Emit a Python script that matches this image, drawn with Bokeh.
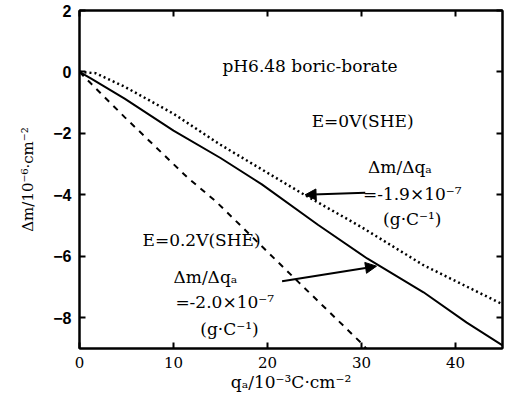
from bokeh.plotting import figure
from bokeh.models import Range1d, LinearAxis, FixedTicker, Label, Arrow, NormalHead
from bokeh.embed import file_html
from bokeh.resources import INLINE

# --- data ---
q_solid = [0, 1.2, 4.8, 10.0, 15.0, 19.4, 25.4, 30.6, 36.6, 41.2, 45.0]
dm_solid = [0, -0.21, -0.87, -1.91, -2.80, -3.66, -4.98, -6.07, -7.17, -8.16, -8.90]

q_dotted = [0, 1.7, 4.8, 10.0, 15.0, 23.6, 30.0, 36.6, 45.0]
dm_dotted = [0, -0.04, -0.48, -1.36, -2.37, -3.94, -5.05, -6.29, -7.56]

q_dashed = [0, 1.2, 4.8, 11.5, 14.5, 23.3, 29.9, 30.5]
dm_dashed = [0, -0.37, -1.47, -3.44, -4.21, -6.84, -8.80, -9.00]

x_ticks = [0, 10, 20, 30, 40]
y_ticks = [-8, -6, -4, -2, 0, 2]

SERIF = "DejaVu Serif"

p = figure(width=505, height=396, output_backend="svg", toolbar_location=None,
           x_range=Range1d(0, 45), y_range=Range1d(-9, 2),
           min_border_left=79, min_border_right=3, min_border_top=10, min_border_bottom=48,
           x_axis_label="qₐ/10⁻³C·cm⁻²", y_axis_label="Δm/10⁻⁶·cm⁻²")
p.grid.visible = False
p.outline_line_color = "black"
p.outline_line_width = 2
p.background_fill_color = "white"
p.border_fill_color = "white"

for ax in (p.xaxis[0], p.yaxis[0]):
    ax.major_tick_in = 6
    ax.major_tick_out = 0
    ax.minor_tick_line_color = None
    ax.axis_line_width = 2
    ax.major_tick_line_width = 2
    ax.axis_label_text_font = SERIF
    ax.axis_label_text_font_style = "normal"
    ax.axis_label_text_color = "black"
    ax.major_label_text_color = "black"

p.xaxis[0].ticker = FixedTicker(ticks=x_ticks)
p.yaxis[0].ticker = FixedTicker(ticks=y_ticks)
p.xaxis[0].major_label_text_font = SERIF
p.xaxis[0].major_label_text_font_size = "15px"
p.xaxis[0].major_label_standoff = 8
p.xaxis[0].axis_label_standoff = 1
p.xaxis[0].axis_label_text_font_size = "17px"
p.yaxis[0].major_label_text_font = "Liberation Sans"
p.yaxis[0].major_label_text_font_style = "bold"
p.yaxis[0].major_label_text_font_size = "16px"
p.yaxis[0].major_label_standoff = 8
p.yaxis[0].axis_label_standoff = 13
p.yaxis[0].axis_label_text_font_size = "15px"

# mirrored tick axes (no labels)
ra = LinearAxis(ticker=FixedTicker(ticks=y_ticks),
                major_label_overrides={t: "" for t in y_ticks},
                major_tick_in=6, major_tick_out=0, minor_tick_line_color=None,
                axis_line_width=2, major_tick_line_width=2, major_label_standoff=0)
p.add_layout(ra, "right")
ta = LinearAxis(ticker=FixedTicker(ticks=x_ticks),
                major_label_overrides={t: "" for t in x_ticks},
                major_tick_in=6, major_tick_out=0, minor_tick_line_color=None,
                axis_line_width=2, major_tick_line_width=2, major_label_standoff=0)
p.add_layout(ta, "above")

# curves
p.line(q_solid, dm_solid, line_color="black", line_width=2)
p.line(q_dotted, dm_dotted, line_color="black", line_width=2.5, line_dash="2 3")
p.line(q_dashed, dm_dashed, line_color="black", line_width=2, line_dash="6 6")

def lab(x, y, t):
    p.add_layout(Label(x=x, y=y, text=t, text_font=SERIF, text_font_size="17px",
                       text_color="black", text_baseline="middle", text_align="left"))

lab(15.2, 0.2, "pH6.48 boric-borate")
lab(24.7, -1.6, "E=0V(SHE)")
lab(30.7, -3.08, "Δm/Δqₐ")
lab(30.15, -3.96, "=-1.9×10⁻⁷")
lab(32.3, -4.78, "(g·C⁻¹)")

lab(6.7, -5.47, "E=0.2V(SHE)")
lab(10.0, -6.68, "Δm/Δqₐ")
lab(10.2, -7.5, "=-2.0×10⁻⁷")
lab(12.85, -8.38, "(g·C⁻¹)")

p.add_layout(Arrow(x_start=30.4, y_start=-3.93, x_end=24.0, y_end=-4.0, line_width=2,
                   end=NormalHead(size=11, fill_color="black", line_color="black")))
p.add_layout(Arrow(x_start=21.55, y_start=-6.81, x_end=31.6, y_end=-6.32, line_width=2,
                   end=NormalHead(size=11, fill_color="black", line_color="black")))

open("out.html", "w").write(file_html(p, INLINE))
